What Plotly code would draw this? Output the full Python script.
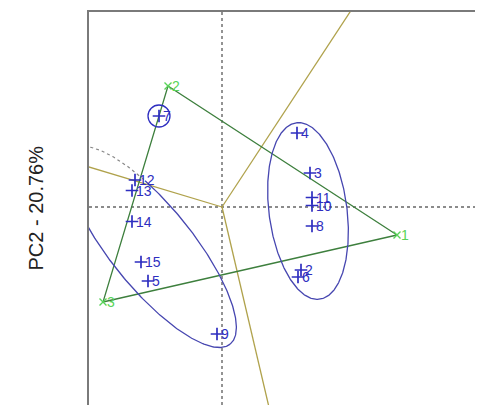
import numpy as np
import plotly.graph_objects as go

# Individuals (PC1, PC2 scores)
ind_labels = ["2", "3", "4", "5", "6", "7", "8", "9", "10", "11", "12", "13", "14", "15"]
ind_pc1 = [1.58, 1.76, 1.50, -1.48, 1.52, -1.26, 1.80, -0.10, 1.80, 1.80, -1.74, -1.80, -1.80, -1.62]
ind_pc2 = [-1.26, 0.68, 1.48, -1.48, -1.40, 1.82, -0.38, -2.54, 0.03, 0.19, 0.54, 0.33, -0.29, -1.10]

# Group centroids
grp_labels = ["1", "2", "3"]
grp_pc1 = [3.50, -1.08, -2.38]
grp_pc2 = [-0.56, 2.42, -1.90]

# Confidence ellipses: centre, semi-axes, angle (deg)
ell_cx = [1.72, -1.41]
ell_cy = [-0.08, -0.80]
ell_a = [1.78, 2.50]
ell_b = [0.78, 0.82]
ell_angle = [97.5, -51.0]

# Partition boundaries (directions from origin)
bnd_dx = [2.56, -2.66, 0.92]
bnd_dy = [3.90, 0.80, -3.92]

# Highlighted individual
circled = "7"
circle_r = 0.22

BLUE = "#2e2ec0"
ELL = "#4646b0"
GREEN_L = "#58d458"
GREEN_D = "#3d7f3d"
OLIVE = "#b0a24c"
FONT = "Liberation Sans, Arial"

fig = go.Figure()

# boundaries
for dx, dy in zip(bnd_dx, bnd_dy):
    fig.add_trace(go.Scatter(x=[0, dx * 3], y=[0, dy * 3], mode="lines",
                             line=dict(color=OLIVE, width=1.3), hoverinfo="skip"))

# triangle between centroids
fig.add_trace(go.Scatter(x=grp_pc1 + grp_pc1[:1], y=grp_pc2 + grp_pc2[:1], mode="lines",
                         line=dict(color=GREEN_D, width=1.3), hoverinfo="skip"))

# ellipses
phi = np.linspace(0, 2 * np.pi, 400)
for i in range(len(ell_cx)):
    t = np.radians(ell_angle[i])
    ex = ell_cx[i] + ell_a[i] * np.cos(phi) * np.cos(t) - ell_b[i] * np.sin(phi) * np.sin(t)
    ey = ell_cy[i] + ell_a[i] * np.cos(phi) * np.sin(t) + ell_b[i] * np.sin(phi) * np.cos(t)
    if i == 1:
        # upper-left part of this ellipse is drawn dotted
        dotted = (np.sin(phi) > 0) & (ex < -1.56)
        fig.add_trace(go.Scatter(x=np.where(dotted, np.nan, ex), y=np.where(dotted, np.nan, ey),
                                 mode="lines", line=dict(color=ELL, width=1.3),
                                 hoverinfo="skip", connectgaps=False))
        fig.add_trace(go.Scatter(x=np.where(dotted, ex, np.nan), y=np.where(dotted, ey, np.nan),
                                 mode="lines", line=dict(color="#888888", width=1.2, dash="dot"),
                                 hoverinfo="skip"))
    else:
        fig.add_trace(go.Scatter(x=ex, y=ey, mode="lines", line=dict(color=ELL, width=1.3),
                                 hoverinfo="skip"))

# individuals
fig.add_trace(go.Scatter(
    x=ind_pc1, y=ind_pc2, mode="markers",
    marker=dict(symbol="cross-thin", size=9, line=dict(color=BLUE, width=1.7)),
    hoverinfo="skip"))
for lab, px, py in zip(ind_labels, ind_pc1, ind_pc2):
    fig.add_annotation(x=px, y=py, text=lab, showarrow=False, xanchor="left", xshift=2,
                       font=dict(family=FONT, size=14, color=BLUE))

# centroids
fig.add_trace(go.Scatter(
    x=grp_pc1, y=grp_pc2, mode="markers",
    marker=dict(symbol="x-thin", size=7, line=dict(color=GREEN_L, width=1.4)),
    hoverinfo="skip"))
for lab, px, py in zip(grp_labels, grp_pc1, grp_pc2):
    fig.add_annotation(x=px, y=py, text=lab, showarrow=False, xanchor="left", xshift=2,
                       font=dict(family=FONT, size=14, color=GREEN_L))

# circle around highlighted individual
k = ind_labels.index(circled)
fig.add_shape(type="circle", xref="x", yref="y",
              x0=ind_pc1[k] - circle_r, x1=ind_pc1[k] + circle_r,
              y0=ind_pc2[k] - circle_r, y1=ind_pc2[k] + circle_r,
              line=dict(color=BLUE, width=1.3))

# dotted crosshair through origin
fig.add_shape(type="line", xref="x", yref="paper", x0=0, x1=0, y0=0, y1=1,
              line=dict(color="#666666", width=1.4, dash="dot"), layer="below")
fig.add_shape(type="line", xref="paper", yref="y", x0=0, x1=1, y0=0, y1=0,
              line=dict(color="#666666", width=1.4, dash="dot"), layer="below")

fig.add_annotation(text="PC2 - 20.76%", textangle=-90, xref="paper", yref="paper",
                   x=-0.17, y=0.50, showarrow=False,
                   font=dict(family=FONT, size=20, color="#222222"))

# page body adds an 8px offset, so the figure is shifted accordingly
fig.update_layout(
    width=475, height=397,
    margin=dict(l=81, r=0, t=4, b=0),
    paper_bgcolor="white", plot_bgcolor="white",
    showlegend=False,
    xaxis=dict(range=[-2.66, 5.22], side="top", showline=True, linecolor="#7a7a7a", linewidth=2,
               showgrid=False, zeroline=False, showticklabels=False, ticks=""),
    yaxis=dict(range=[-3.96, 3.90], showline=True, linecolor="#7a7a7a", linewidth=2,
               showgrid=False, zeroline=False, showticklabels=False, ticks=""),
)

fig.write_html("out.html")
